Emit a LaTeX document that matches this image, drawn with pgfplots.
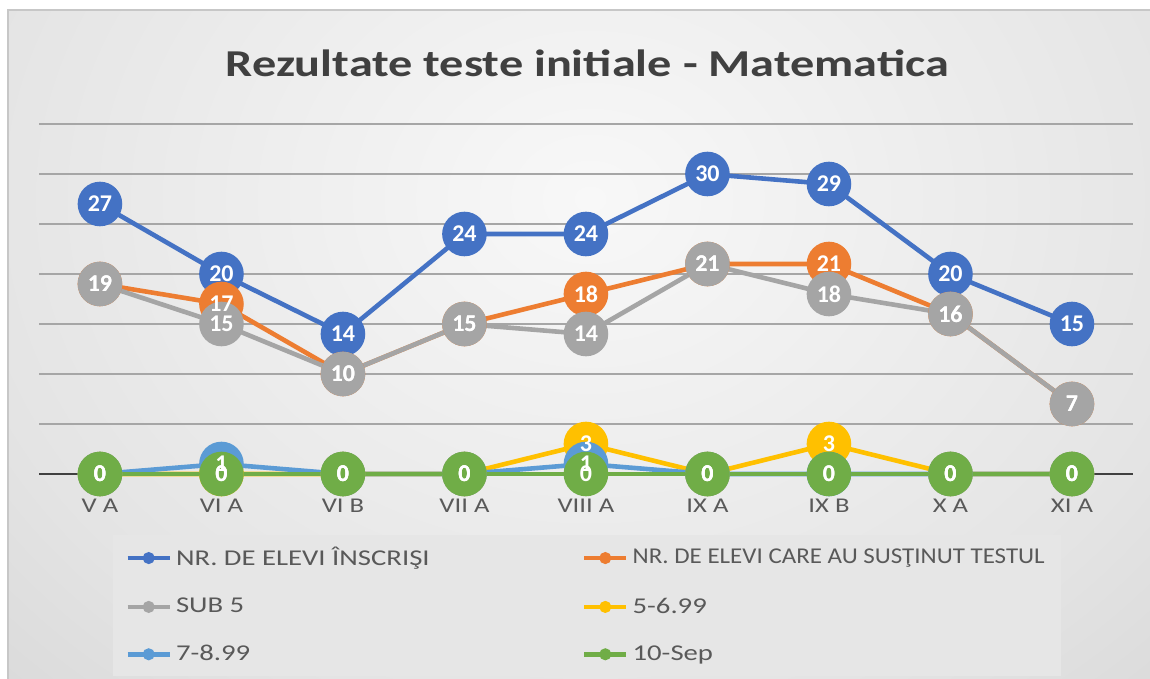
\documentclass[border=0pt]{standalone}
\usepackage{fontspec}
\setmainfont{Carlito}
\newfontfamily\widefont[FakeStretch=1.27]{Carlito}
\usepackage{graphicx}
\usepackage{pgfplots}
\usepackage{pgfplotstable}
\pgfplotsset{compat=1.18}

\definecolor{cBlue}{HTML}{4472C4}
\definecolor{cOrange}{HTML}{ED7D31}
\definecolor{cGray}{HTML}{A5A5A5}
\definecolor{cYellow}{HTML}{FFC000}
\definecolor{cLblue}{HTML}{5B9BD5}
\definecolor{cGreen}{HTML}{70AD47}
\definecolor{titlec}{HTML}{404040}
\definecolor{tickc}{HTML}{595959}
\definecolor{gridc}{HTML}{A6A6A6}
\definecolor{axisc}{HTML}{404040}
\definecolor{legc}{HTML}{E6E6E6}
\definecolor{bgin}{HTML}{F8F8F8}
\definecolor{bgmid}{HTML}{E4E4E4}
\definecolor{bgout}{HTML}{C4C4C4}

\pgfdeclareradialshading{cardbg}{\pgfpoint{0bp}{0bp}}{color(0bp)=(bgin); color(24bp)=(bgmid); color(50bp)=(bgout)}

% elevi per clasa
\pgfplotstableread{
x blue orange gray yellow lblue green
0 27 19 19 0 0 0
1 20 17 15 0 1 0
2 14 10 10 0 0 0
3 24 15 15 0 0 0
4 24 18 14 3 1 0
5 30 21 21 0 0 0
6 29 21 18 3 0 0
7 20 16 16 0 0 0
8 15 7 7 0 0 0
}\data

\pgfplotsset{
  ser/.style={color=#1, line width=2.3pt, mark=*, mark size=10pt, mark options={solid, fill=#1}},
  lab/.style={draw=none, mark=none, forget plot, nodes near coords},
}

\begin{document}
\begin{tikzpicture}
  \path[use as bounding box] (0,0) rectangle (575pt,339.5pt);
  \fill[white] (0,0) rectangle (575pt,339.5pt);
  \begin{scope}
    \clip (4pt,0pt) rectangle (575pt,334.5pt);
    \shade[shading=cardbg] (-35pt,-30pt) rectangle (625pt,510pt);
  \end{scope}
  \draw[black!22, line width=0.6pt] (4pt,0pt) -- (4pt,334.5pt) -- (575pt,334.5pt);
  \node[anchor=base, font=\widefont\bfseries\fontsize{19}{22}\selectfont, text=titlec]
    at (293.75pt,301.2pt) {Rezultate teste initiale - Matematica};

  \begin{axis}[
      at={(19.6pt,102.5pt)}, anchor=south west,
      scale only axis, width=546.75pt, height=175pt,
      xmin=-0.5, xmax=8.5, ymin=0, ymax=35,
      xtick={0,...,8},
      xticklabels={V A, VI A, VI B, VII A, VIII A, IX A, IX B, X A, XI A},
      xticklabel style={font=\widefont\fontsize{10.5}{12}\selectfont, text=tickc, yshift=-9pt},
      ytick={5,10,...,35}, yticklabels={},
      ymajorgrids, grid style={line width=0.9pt, gridc},
      extra y ticks={0}, extra y tick labels={},
      extra y tick style={grid style={line width=1.1pt, axisc}},
      axis line style={draw=none}, tick style={draw=none},
      clip=false,
      /pgf/number format/assume math mode=true,
      every node near coord/.append style={anchor=center, text=white,
        font=\bfseries\fontsize{12}{14}\selectfont},
      legend columns=2,
      legend cell align=left,
      legend style={at={(axis description cs:0.0675,-0.174)}, anchor=north west,
        fill=legc, draw=none, text=tickc,
        font=\widefont\fontsize{11.3}{13}\selectfont,
        inner xsep=6pt, inner ysep=4pt, row sep=10.5pt},
      legend image code/.code={\draw[#1, mark size=1.8pt, mark repeat=2, mark phase=2]
        plot coordinates {(0pt,0pt) (10.5pt,0pt) (21pt,0pt)};},
    ]
    \addplot[ser=cBlue] table[x=x,y=blue]{\data};
    \addlegendentry{\makebox[201pt][l]{NR. DE ELEVI ÎNSCRIŞI}}
    \addplot[ser=cOrange] table[x=x,y=orange]{\data};
    \addlegendentry{\scalebox{0.87}[1]{NR. DE ELEVI CARE AU SUSŢINUT TESTUL}}
    \addplot[ser=cGray] table[x=x,y=gray]{\data};
    \addlegendentry{SUB 5}
    \addplot[ser=cYellow] table[x=x,y=yellow]{\data};
    \addlegendentry{5-6.99}
    \addplot[ser=cLblue] table[x=x,y=lblue]{\data};
    \addlegendentry{7-8.99}
    \addplot[ser=cGreen] table[x=x,y=green]{\data};
    \addlegendentry{10-Sep}

    % etichete deasupra tuturor markerelor
    \addplot[lab] table[x=x,y=blue]{\data};
    \addplot[lab] table[x=x,y=orange]{\data};
    \addplot[lab] table[x=x,y=gray]{\data};
    \addplot[lab] table[x=x,y=yellow]{\data};
    \addplot[lab] table[x=x,y=lblue]{\data};
    \addplot[lab] table[x=x,y=green]{\data};
  \end{axis}
\end{tikzpicture}
\end{document}
